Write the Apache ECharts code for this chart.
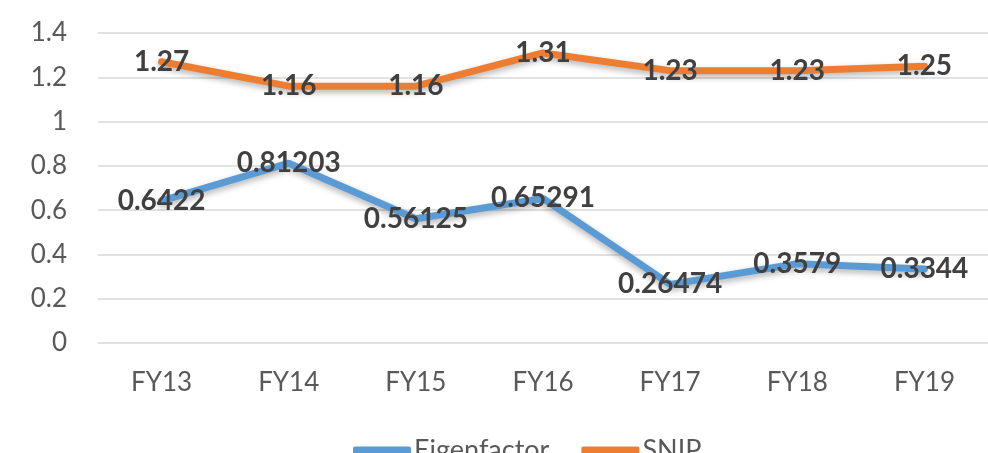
<!DOCTYPE html>
<html>
<head>
<meta charset="utf-8">
<script src="https://cdn.jsdelivr.net/npm/echarts@6/dist/echarts.min.js"></script>
<style>
  html,body{margin:0;padding:0;background:#fff;}
  #chart{width:988px;height:453px;}
</style>
</head>
<body>
<div id="chart"></div>
<script>
// categories and values
const years = ['FY13','FY14','FY15','FY16','FY17','FY18','FY19']
const eigenfactor = [0.6422, 0.81203, 0.56125, 0.65291, 0.26474, 0.3579, 0.3344]
const snip = [1.27, 1.16, 1.16, 1.31, 1.23, 1.23, 1.25]

const chart = echarts.init(document.getElementById('chart'))

// label style shared by both lines
const lbl = {
  show: true,
  position: 'inside',
  fontFamily: 'Lato',
  fontWeight: 'bold',
  fontSize: 28,
  color: '#404040'
}

function line(name, data, color) {
  return {
    name: name,
    type: 'line',
    data: data,
    symbol: 'circle',
    symbolSize: 2,
    lineStyle: {
      color: color,
      width: 7,
      cap: 'round',
      shadowColor: 'rgba(0,0,0,0.3)',
      shadowBlur: 6,
      shadowOffsetY: 3
    },
    itemStyle: { color: color },
    label: lbl,
    z: 2
  }
}

chart.setOption({
  animation: false,
  textStyle: { fontFamily: 'Lato' },
  grid: { left: 98, right: -22, top: 33, bottom: 110 },
  xAxis: {
    type: 'category',
    data: years,
    boundaryGap: true,
    axisLine: { show: false },
    axisTick: { show: false },
    axisLabel: { color: '#595959', fontSize: 26, margin: 27, fontFamily: 'Lato' }
  },
  yAxis: {
    type: 'value',
    min: 0,
    max: 1.4,
    interval: 0.2,
    axisLine: { show: false },
    axisTick: { show: false },
    axisLabel: { color: '#595959', fontSize: 26, margin: 31, fontFamily: 'Lato',
      formatter: v => String(+v.toFixed(1)) },
    splitLine: { lineStyle: { color: '#d9d9d9', width: 1.5 } }
  },
  legend: {
    top: 432,
    left: 348,
    itemWidth: 58,
    itemHeight: 8,
    itemGap: 32,
    icon: 'roundRect',
    textStyle: { color: '#595959', fontSize: 27, fontFamily: 'Lato', padding: [0, 0, 0, -2] },
    data: ['Eigenfactor', 'SNIP']
  },
  series: [
    line('Eigenfactor', eigenfactor, '#5b9bd5'),
    line('SNIP', snip, '#ed7d31')
  ]
})
</script>
</body>
</html>
